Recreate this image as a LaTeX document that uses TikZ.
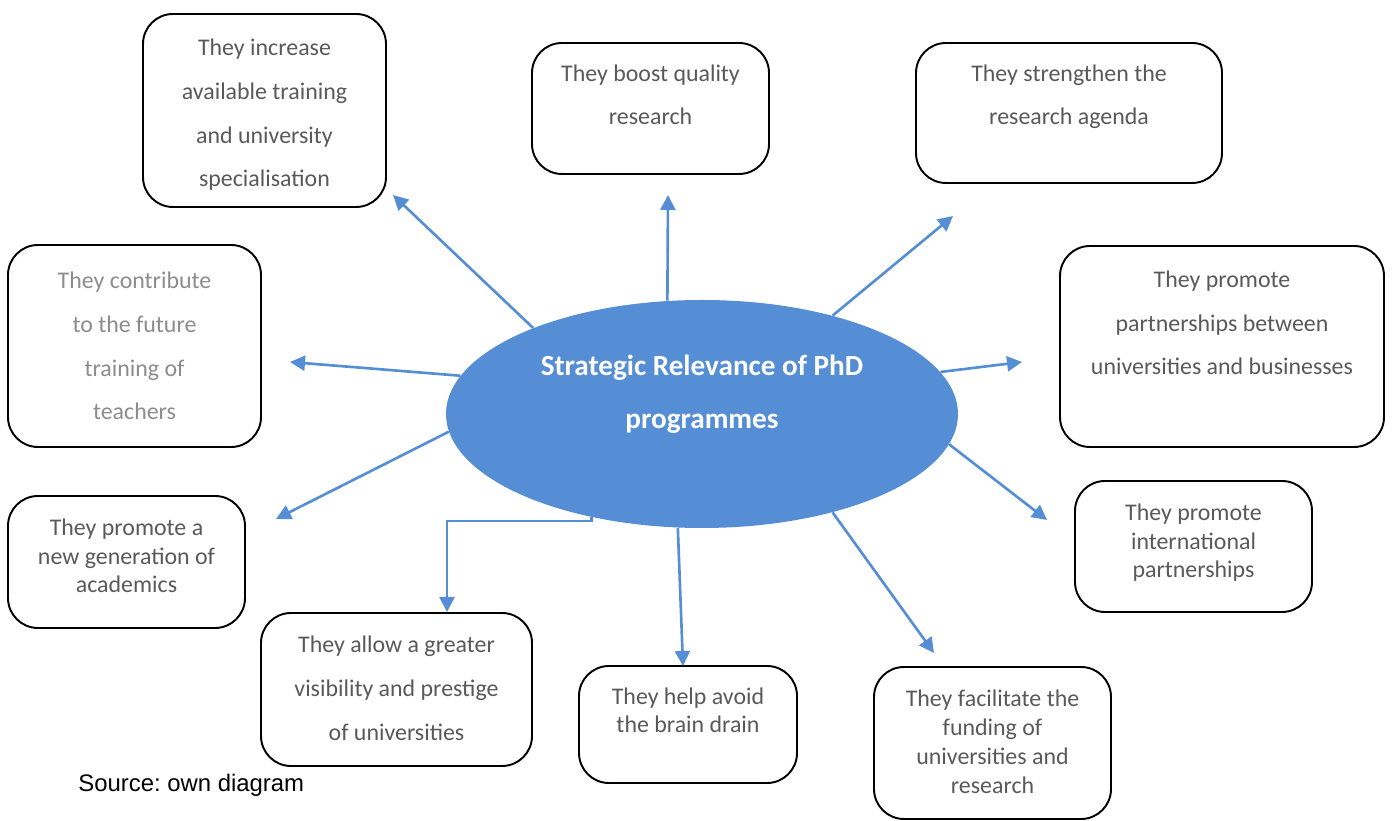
\documentclass[tikz,border=0pt]{standalone}
\usepackage{fontspec}
\setmainfont{Carlito}
\newfontfamily\arialfont{Liberation Sans}
\usetikzlibrary{arrows.meta,shapes.geometric}
\definecolor{hubblue}{HTML}{558ED5}
\definecolor{textgray}{HTML}{595959}
\definecolor{softgray}{HTML}{8C8C8C}

\begin{document}
\begin{tikzpicture}[
		>={Triangle[length=0.3cm, width=0.3cm]},
		idea/.style={draw=black, line width=1.1pt, rounded corners=0.6cm,
				text=textgray, align=center, inner sep=1pt, text depth=1mm},
		wide/.style={font=\fontsize{13.6}{25}\selectfont},
		tight/.style={font=\fontsize{13.6}{16.5}\selectfont},
		link/.style={->, draw=hubblue, line width=1.5pt},
	]
	\useasboundingbox (0,0) rectangle (27.84,16.4);

	\node[ellipse, fill=hubblue, text=white, align=center, inner sep=1pt,
		font=\bfseries\fontsize{16.6}{30.7}\selectfont,
		minimum width=10.24cm, minimum height=4.56cm,
		text height=0.7cm, text depth=1mm] (hub) at (14.04,8.12)
	{Strategic Relevance of PhD\\programmes};

	\node[idea, wide, minimum width=4.86cm, minimum height=3.86cm, text height=3.16cm]
	(training) at (5.29,14.19)
	{They increase\\available training\\and university\\specialisation};

	\node[idea, wide, minimum width=4.74cm, minimum height=2.62cm, text height=0.76cm]
	(quality) at (13.01,14.23)
	{They boost quality\\research};

	\node[idea, wide, minimum width=6.12cm, minimum height=2.8cm, text height=0.58cm]
	(agenda) at (21.38,14.14)
	{They strengthen the\\research agenda};

	\node[idea, wide, text=softgray, minimum width=5.06cm, minimum height=4.04cm, text height=3.06cm]
	(teachers) at (2.69,9.48)
	{They contribute\\to the future\\training of\\teachers};

	\node[idea, wide, minimum width=6.48cm, minimum height=4.02cm, text height=1.24cm]
	(business) at (24.44,9.47)
	{They promote\\partnerships between\\universities and businesses};

	\node[idea, tight, minimum width=4.74cm, minimum height=2.64cm, text height=1.34cm]
	(academics) at (2.53,5.16)
	{They promote a\\new generation of\\academics};

	\node[idea, tight, minimum width=4.74cm, minimum height=2.62cm, text height=1.36cm]
	(intl) at (23.87,5.47)
	{They promote\\international\\partnerships};

	\node[idea, wide, minimum width=5.42cm, minimum height=3.06cm, text height=2.12cm]
	(prestige) at (7.93,2.61)
	{They allow a greater\\visibility and prestige\\of universities};

	\node[idea, tight, minimum width=4.36cm, minimum height=2.34cm, text height=0.44cm]
	(braindrain) at (13.76,1.91)
	{They help avoid\\the brain drain};

	\node[idea, tight, minimum width=4.74cm, minimum height=3.04cm, text height=2.1cm]
	(funding) at (19.85,1.54)
	{They facilitate the\\funding of\\universities and\\research};

	\node[anchor=west, inner sep=0pt, font=\arialfont\fontsize{13.6}{16}\selectfont]
	(source) at (1.56,0.7) {Source:\ own diagram};

	% arrow tips stop short of the boxes
	\coordinate (training-tip) at (7.86,12.5);
	\coordinate (quality-tip) at (13.36,12.5);
	\coordinate (agenda-tip) at (19.06,12.08);
	\coordinate (teachers-tip) at (5.8,9.16);
	\coordinate (business-tip) at (20.44,9.16);
	\coordinate (academics-tip) at (5.52,6.02);
	\coordinate (intl-tip) at (20.94,6.0);
	\coordinate (prestige-tip) at (8.94,4.16);
	\coordinate (braindrain-tip) at (13.66,3.08);
	\coordinate (funding-tip) at (18.68,3.34);

	\draw[link] (hub.153) -- (training-tip);
	\draw[link] (hub.107) -- (quality-tip);
	\draw[link] (hub.37) -- (agenda-tip);
	\draw[link] (hub.171) -- (teachers-tip);
	\draw[link] (hub.10) -- (business-tip);
	\draw[link] (hub.-176) -- (academics-tip);
	\draw[link] (hub.-7) -- (intl-tip);
	\draw[link] (hub.-137) -- ++(0,-0.08) -| (prestige-tip);
	\draw[link] (hub.-102) -- (braindrain-tip);
	\draw[link] (hub.-37) -- (funding-tip);

\end{tikzpicture}
\end{document}
